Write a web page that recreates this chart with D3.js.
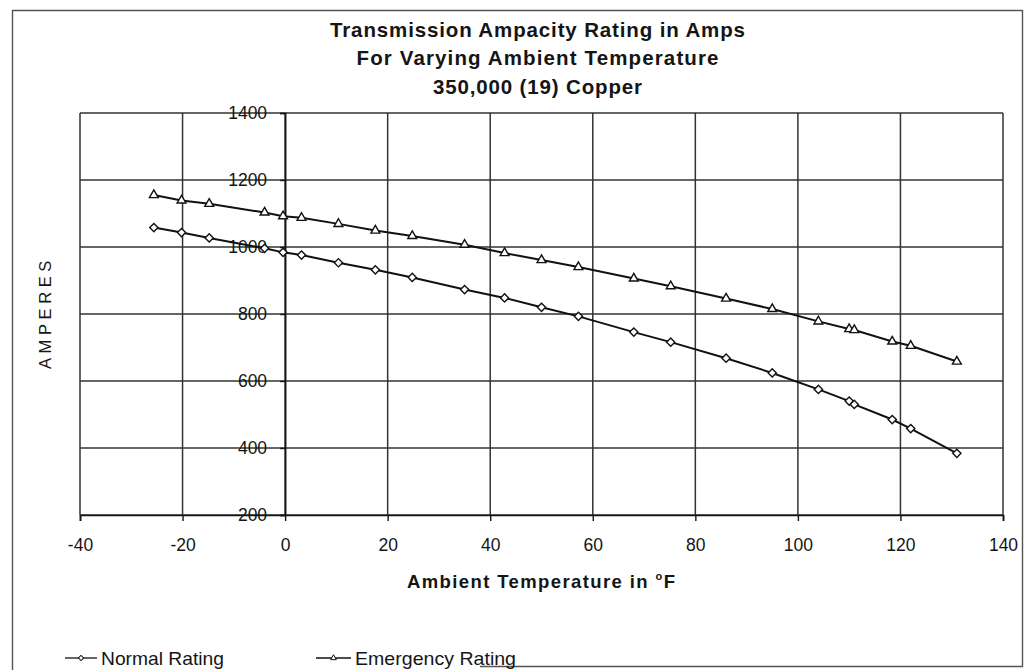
<!DOCTYPE html>
<html>
<head>
<meta charset="utf-8">
<script src="https://cdn.jsdelivr.net/npm/d3@7"></script>
<style>
  body { margin: 0; background: #fff; }
  text { font-family: "Liberation Sans", Arial, sans-serif; fill: #151515; }
</style>
</head>
<body>
<svg id="chart" width="1030" height="670"></svg>
<script>
// Title lines
const titleLines = [
  "Transmission Ampacity Rating in Amps",
  "For Varying Ambient Temperature",
  "350,000 (19) Copper"
];

// Ambient temperature, °F
const temperatures = [-25.6, -20.2, -14.8, -4, -0.4, 3.2, 10.4, 17.6, 24.8, 35, 42.8, 50,
                      57.2, 68, 75.2, 86, 95, 104, 110, 111, 118.4, 122, 131];

// Ampacity ratings, amperes
const normalRating    = [1058, 1043, 1027, 996, 984, 976, 953, 932, 909, 873, 848, 820,
                         793, 746, 716, 668, 624, 575, 540, 530, 485, 458, 384];
const emergencyRating = [1155, 1139, 1129, 1103, 1092, 1087, 1069, 1049, 1033, 1007, 982, 961,
                         940, 906, 883, 846, 815, 778, 755, 752, 718, 705, 658];

const seriesNames = ["Normal Rating", "Emergency Rating"];

// Axis ticks
const xTicks = [-40, -20, 0, 20, 40, 60, 80, 100, 120, 140];
const yTicks = [200, 400, 600, 800, 1000, 1200, 1400];

const xTitle = "Ambient Temperature in ";
const yTitle = "AMPERES";

const svg = d3.select("#chart");
const ink = "#151515";
const gridInk = "#333";

svg.append("rect").attr("width", 1030).attr("height", 670).attr("fill", "#fff");

// chart area frame
const frame = svg.append("g").attr("stroke", "#555").attr("stroke-width", 1.4).attr("fill", "none");
frame.append("path").attr("d", "M12.5,670 V10.5 H1022.5 V666.5 H480");

const x = d3.scaleLinear().domain([-40, 140]).range([80, 1003]);
const y = d3.scaleLinear().domain([200, 1400]).range([515, 113]);

// title
const titleBaselines = [36.5, 65, 93.5];
const titleWidths = [415, 362, 209];
svg.append("g").selectAll("text").data(titleLines).join("text")
  .attr("x", 537.5)
  .attr("y", (d, i) => titleBaselines[i])
  .attr("text-anchor", "middle")
  .style("font-size", "20.5px")
  .style("font-weight", "bold")
  .attr("textLength", (d, i) => titleWidths[i])
  .attr("lengthAdjust", "spacing")
  .text(d => d);

// gridlines
const grid = svg.append("g").attr("stroke", gridInk).attr("stroke-width", 1.5);
grid.selectAll("line.v").data(xTicks).join("line")
  .attr("class", "v")
  .attr("x1", d => x(d)).attr("x2", d => x(d))
  .attr("y1", y(1400)).attr("y2", y(200));
grid.selectAll("line.h").data(yTicks).join("line")
  .attr("class", "h")
  .attr("x1", x(-40)).attr("x2", x(140))
  .attr("y1", d => y(d)).attr("y2", d => y(d));

// x axis along the bottom
const xAxis = svg.append("g")
  .attr("transform", `translate(0,${y(200)})`)
  .call(d3.axisBottom(x).tickValues(xTicks).tickSize(6).tickPadding(18).tickFormat(d => String(d)));
xAxis.select(".domain").attr("stroke", ink).attr("stroke-width", 1.7);
xAxis.selectAll(".tick line").attr("stroke", ink).attr("stroke-width", 1.4);
xAxis.selectAll(".tick text")
  .style("font-size", "17.5px").style("fill", ink)
  .style("font-family", "'Liberation Sans', Arial, sans-serif");

// y axis crossing at 0 °F
const yAxis = svg.append("g")
  .attr("transform", `translate(${x(0)},0)`)
  .call(d3.axisLeft(y).tickValues(yTicks).tickSize(5).tickPadding(13).tickFormat(d => String(d)));
yAxis.select(".domain").attr("stroke", ink).attr("stroke-width", 1.7);
yAxis.selectAll(".tick line").attr("stroke", ink).attr("stroke-width", 1.4);
yAxis.selectAll(".tick text")
  .style("font-size", "17.5px").style("fill", ink)
  .style("font-family", "'Liberation Sans', Arial, sans-serif");

// axis titles
const xt = svg.append("text")
  .attr("x", 407).attr("y", 588)
  .style("font-size", "18.5px").style("font-weight", "bold")
  .attr("textLength", 268).attr("lengthAdjust", "spacing")
  .text(xTitle);
xt.append("tspan").style("font-size", "11px").attr("dy", -8).text("o");
xt.append("tspan").attr("dy", 8).text("F");

svg.append("text")
  .attr("transform", "translate(51,369) rotate(-90)")
  .style("font-size", "16.5px")
  .attr("letter-spacing", 4.6)
  .text(yTitle);

// series
const normalPts = temperatures.map((t, i) => [t, normalRating[i]]);
const emergencyPts = temperatures.map((t, i) => [t, emergencyRating[i]]);
const line = d3.line().x(d => x(d[0])).y(d => y(d[1]));

const diamond = d3.symbol().type(d3.symbolSquare).size(34);
const triangle = d3.symbol().type(d3.symbolTriangle).size(34);

function drawSeries(pts, symbolGen, rot) {
  svg.append("path").datum(pts)
    .attr("d", line).attr("fill", "none")
    .attr("stroke", "#111").attr("stroke-width", 2);
  svg.append("g").selectAll("path").data(pts).join("path")
    .attr("d", symbolGen)
    .attr("transform", d => `translate(${x(d[0])},${y(d[1])}) rotate(${rot})`)
    .attr("fill", "#fff").attr("stroke", "#111").attr("stroke-width", 1.4);
}
drawSeries(normalPts, diamond, 45);
drawSeries(emergencyPts, triangle, 0);

// legend
const legendItems = [
  { name: seriesNames[0], x0: 65, x1: 97, type: d3.symbolSquare, rot: 45, tx: 101, w: 123 },
  { name: seriesNames[1], x0: 316, x1: 351, type: d3.symbolTriangle, rot: 0, tx: 355, w: 161 }
];
const lg = svg.append("g");
legendItems.forEach(it => {
  lg.append("line").attr("x1", it.x0).attr("x2", it.x1).attr("y1", 658).attr("y2", 658)
    .attr("stroke", "#111").attr("stroke-width", 1.3);
  lg.append("path").attr("d", d3.symbol().type(it.type).size(14))
    .attr("transform", `translate(${(it.x0 + it.x1) / 2},658) rotate(${it.rot})`)
    .attr("fill", "#fff").attr("stroke", "#111").attr("stroke-width", 1);
  lg.append("text").attr("x", it.tx).attr("y", 665)
    .style("font-size", "18.5px")
    .attr("textLength", it.w).attr("lengthAdjust", "spacingAndGlyphs")
    .text(it.name);
});
</script>
</body>
</html>
